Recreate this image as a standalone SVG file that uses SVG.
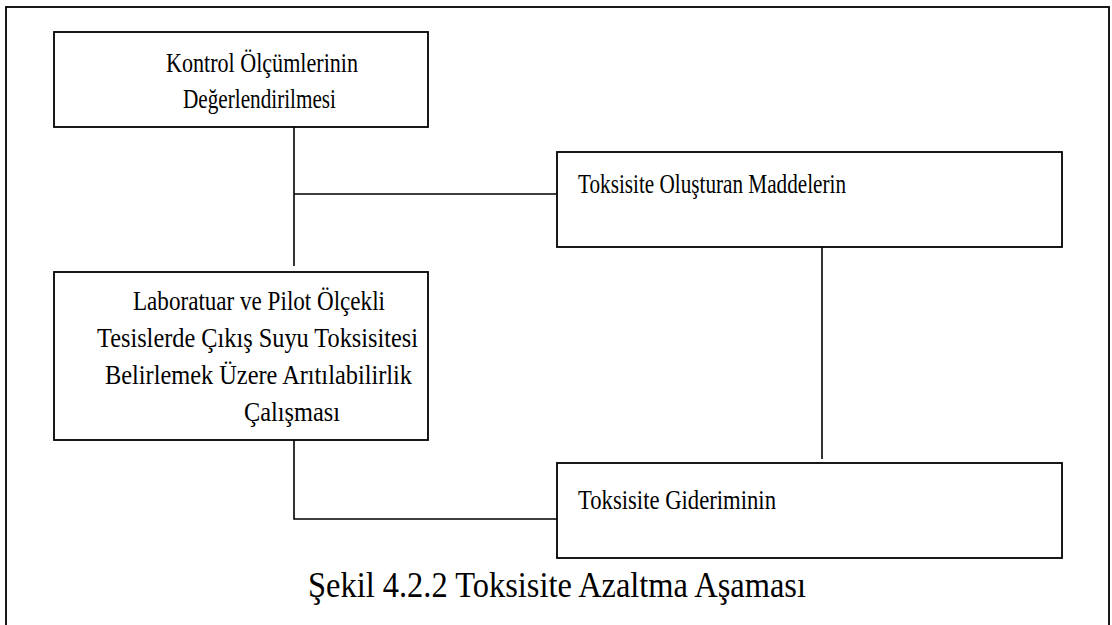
<svg xmlns="http://www.w3.org/2000/svg" width="1112" height="625" viewBox="0 0 1112 625">
  <style>
    .frame { fill: none; stroke: #000; stroke-width: 1.8; }
    .box { fill: #fff; stroke: #000; stroke-width: 1.8; }
    .link { fill: none; stroke: #000; stroke-width: 1.6; }
    .t { font-family: "Liberation Serif", "Times New Roman", serif; font-size: 27px; fill: #000; }
    .cap { font-family: "Liberation Serif", "Times New Roman", serif; font-size: 36px; fill: #000; }
  </style>
  <rect width="1112" height="625" fill="#fff"/>
  <!-- outer frame, bottom edge runs off the page -->
  <rect class="frame" x="6" y="7" width="1103" height="640"/>

  <g id="connectors">
    <path class="link" d="M294 127 V266"/>
    <path class="link" d="M294 194 H557"/>
    <path class="link" d="M822 243 V459"/>
    <path class="link" d="M294 434 V519 H557"/>
  </g>

  <g id="node-kontrol">
    <rect class="box" x="54" y="32" width="374" height="95"/>
    <text class="t" x="166" y="72" textLength="192" lengthAdjust="spacingAndGlyphs">Kontrol Ölçümlerinin</text>
    <text class="t" x="183" y="108" textLength="153" lengthAdjust="spacingAndGlyphs">Değerlendirilmesi</text>
  </g>

  <g id="node-maddeler">
    <rect class="box" x="557" y="152" width="505" height="95"/>
    <text class="t" x="578" y="193" textLength="268" lengthAdjust="spacingAndGlyphs">Toksisite Oluşturan Maddelerin</text>
  </g>

  <g id="node-laboratuar">
    <rect class="box" x="54" y="272" width="374" height="168"/>
    <text class="t" x="133" y="310" textLength="252" lengthAdjust="spacingAndGlyphs">Laboratuar ve Pilot Ölçekli</text>
    <text class="t" x="97" y="347" textLength="321" lengthAdjust="spacingAndGlyphs">Tesislerde Çıkış Suyu Toksisitesi</text>
    <text class="t" x="105" y="384" textLength="307" lengthAdjust="spacingAndGlyphs">Belirlemek Üzere Arıtılabilirlik</text>
    <text class="t" x="244" y="421" textLength="96" lengthAdjust="spacingAndGlyphs">Çalışması</text>
  </g>

  <g id="node-giderim">
    <rect class="box" x="557" y="463" width="505" height="95"/>
    <text class="t" x="578" y="509" textLength="198" lengthAdjust="spacingAndGlyphs">Toksisite Gideriminin</text>
  </g>

  <g id="caption">
    <text class="cap" x="308" y="597" textLength="498" lengthAdjust="spacingAndGlyphs">Şekil 4.2.2 Toksisite Azaltma Aşaması</text>
  </g>
</svg>
